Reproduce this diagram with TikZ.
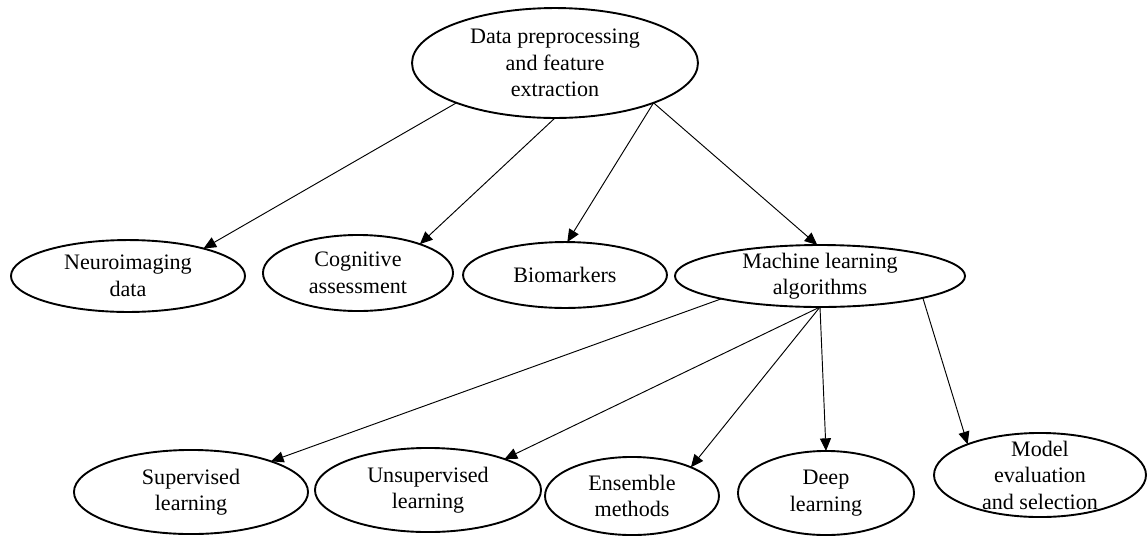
\documentclass[tikz,border=0pt]{standalone}
\usepackage{fontspec}
\setmainfont{Liberation Serif}
\usetikzlibrary{shapes.geometric,arrows.meta}
\tikzset{
  ell/.style={draw, ellipse, line width=1.2pt, inner sep=0pt, outer sep=0pt},
  txt/.style={align=center, inner sep=0pt, font=\fontsize{14}{16.8}\selectfont},
  edge/.style={line width=0.6pt, -{Triangle[length=8pt,width=7pt]}},
}
\begin{document}
\begin{tikzpicture}[x=0.634pt, y=-0.634pt]
\useasboundingbox (0,0) rectangle (1148,536);
% ellipses
\node[ell, minimum width=181.3pt, minimum height=69.7pt] (top) at (555,63) {};
\node[ell, minimum width=148.4pt, minimum height=45.6pt] (neuro) at (128,276) {};
\node[ell, minimum width=120.5pt, minimum height=48.2pt] (cog) at (358,273) {};
\node[ell, minimum width=129.3pt, minimum height=41.8pt] (bio) at (565,275) {};
\node[ell, minimum width=183.9pt, minimum height=39.3pt] (ml) at (820,276) {};
\node[ell, minimum width=148.4pt, minimum height=53.3pt] (sup) at (191,492) {};
\node[ell, minimum width=143.3pt, minimum height=53.3pt] (unsup) at (428,490) {};
\node[ell, minimum width=110.3pt, minimum height=49.5pt] (ens) at (632,496) {};
\node[ell, minimum width=111.6pt, minimum height=53.3pt] (deep) at (826,493) {};
\node[ell, minimum width=134.4pt, minimum height=53.3pt] (model) at (1040,475) {};
% texts
\node[txt] (topt) at (top) {Data preprocessing\\and feature\\extraction};
\node[txt] (neurot) at (neuro) {Neuroimaging\\data};
\node[txt] (cogt) at (cog) {Cognitive\\assessment};
\node[txt] (biot) at (bio) {Biomarkers};
\node[txt] (mlt) at (ml) {Machine learning\\algorithms};
\node[txt] (supt) at (sup) {Supervised\\learning};
\node[txt] (unsupt) at (unsup) {Unsupervised\\learning};
\node[txt] (enst) at (ens) {Ensemble\\methods};
\node[txt] (deept) at (deep) {Deep\\learning};
\node[txt] (modelt) at (model) {Model\\evaluation\\and selection};
% edges
\draw[edge] (top.202) -- (neuro.20);
\draw[edge] (top.270) -- (cog.25);
\draw[edge] (top.338) -- (bio.86);
\draw[edge] (top.338) -- (ml.95);
\draw[edge] (ml.193) -- (sup.21);
\draw[edge] (ml.270) -- (unsup.22);
\draw[edge] (ml.270) -- (ens.26);
\draw[edge] (ml.270) -- (deep.90);
\draw[edge] (ml.348) -- (model.157);
\end{tikzpicture}
\end{document}
